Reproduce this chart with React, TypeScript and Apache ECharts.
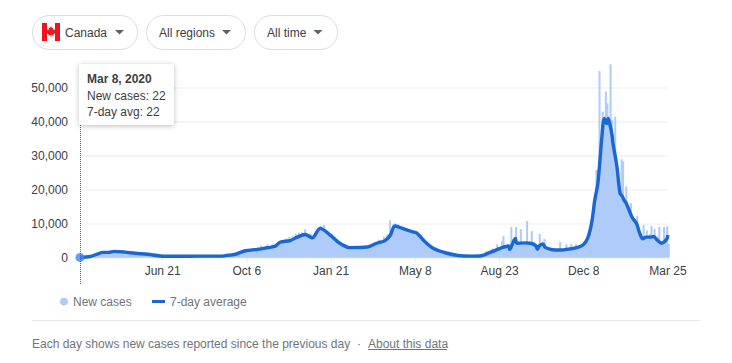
import React, { useEffect, useRef } from "react";
import * as echarts from "echarts";

// Axis labels: day offsets from Mar 8, 2020
const tickDays = [105, 212, 319, 426, 533, 640, 747];
const tickLabels = ["Jun 21", "Oct 6", "Jan 21", "May 8", "Aug 23", "Dec 8", "Mar 25"];
const yTicks = [0, 10000, 20000, 30000, 40000, 50000];

const chips = ["Canada", "All regions", "All time"];

// New cases, one reading per two days starting on Mar 8, 2020
const newCases = [
  22, 80, 110, 250, 340, 420, 500, 600, 720, 900, 1100, 1300, 1450, 1500, 1480, 1500, 1650, 1700, 1750, 1800,
  1900, 1850, 1750, 1800, 1700, 1600, 1550, 1500, 1450, 1300, 1250, 1200, 1250, 1200, 1150, 1100, 1000, 950, 880, 800,
  750, 700, 680, 620, 580, 520, 500, 460, 430, 400, 390, 380,
  350, 340, 320, 300, 290, 280, 300, 340, 310, 300, 320, 380, 400, 350, 320, 380, 420, 400, 360, 340,
  350, 380, 400, 380, 340, 330, 350, 380, 360, 340, 350, 390, 400, 420, 380, 430, 480, 450, 520, 560,
  600, 650, 700, 720, 760, 900, 1000, 1050, 1100,
  1300, 1500, 1700, 1900, 2100, 2200, 2000, 2400, 2300, 2700, 2100, 2600, 3000, 2500, 3600, 2700, 2600, 3300, 3900, 3000, 3400, 3800,
  3400, 3900, 4100, 4700, 4400, 5000, 4300, 4900, 5600, 5000, 6000, 5200, 6300, 5800, 7000, 6100, 7300, 6500, 7400, 6600,
  8300, 6500, 6900, 7000, 6800, 6000, 5400, 5700, 8500, 6500, 9300, 8700, 9600,
  8400, 8000, 7700, 7200, 6800, 6400, 6000, 5500, 5100, 4700, 4300, 4000, 3700, 3400, 3100, 3000,
  3000, 2900, 3000, 3500, 3100, 2900, 3000, 3000, 3100, 3100, 3300, 3200, 3300, 3600,
  3800, 4200, 4600, 4400, 5200, 5100,
  5300, 6200, 5500, 6600, 7000, 11000, 7800, 9800, 10000, 9300, 9800, 8800, 8900, 8500, 8000, 8400, 7800, 7900, 7500, 7500, 7300, 7100, 6900,
  6300, 5800, 5300, 4900, 4600, 4200, 3800, 3400, 3100, 2800, 2500, 2300, 2100, 1900, 1750, 1600, 1450, 1350, 1250, 1150,
  1050, 950, 850, 750, 680, 620, 570, 530, 490, 450, 420, 400, 390, 370, 360,
  380, 350, 320, 350, 400, 500, 700, 1200, 1900, 1500, 1700, 2200, 2700, 1800, 2400, 3900, 2800, 3200, 4700,
  6400, 3200, 3000, 3500, 3800, 9000, 3000, 3500, 9000, 3500, 4200, 8400, 4200, 3300, 4000, 10800, 3900, 3000, 7800, 3800,
  4000, 3000, 3500, 6900, 3000, 3200, 5500, 2400, 2700, 3000, 2400, 2300, 2400, 2300, 2200, 2400, 4500, 2300, 2400, 2300,
  3900, 2500, 2700, 4000, 3000, 3200, 3900, 3000, 3300,
  3300, 3500, 3600, 4300, 5000, 5800, 7800, 10500, 13000, 15500, 25800, 26000,
  55000, 26000, 43000, 35000, 49000, 45500, 32000, 57000, 40500, 30000, 41500, 18000,
  16000, 20000, 29000, 28400, 14000, 21000, 10000, 13000, 16000, 8000, 11000, 9000, 12200, 7000, 7500, 6000, 9600, 5500, 8000, 4500,
  7000, 9300, 4000, 8400, 4500, 6000, 9000, 3500, 5000, 9000, 4000, 9200, 4000,
];

// 7-day average readings: day offset and value
const avgDays = [
  0, 13, 22, 29, 36, 44, 57, 70, 86, 102, 121, 140, 159, 178, 188, 197, 210, 226, 241, 248,
  254, 267, 276, 286, 295, 305, 318, 330, 343, 365, 377, 387, 394, 400, 407, 422, 428, 438, 448, 464,
  480, 498, 508, 521, 534, 544, 546, 549, 553, 555, 565, 572, 579, 581, 583, 588, 591, 600, 610, 622,
  631, 639, 645, 650, 654, 658, 663, 666, 669, 671, 673, 676, 677, 682, 686, 689, 691, 694, 701, 707,
  711, 715, 719, 724, 729, 733, 739, 745, 747,
];
const avgValues = [
  22, 300, 1000, 1500, 1500, 1800, 1600, 1250, 950, 450, 350, 380, 400, 400, 650, 900, 2000, 2400, 3000, 3300,
  4500, 5000, 6000, 6800, 5800, 8600, 6600, 4200, 2900, 3100, 4200, 4900, 6500, 9300, 8800, 7600, 7200, 4700, 2800, 1400,
  600, 400, 450, 1500, 2700, 3400, 2400, 3800, 5600, 4200, 4300, 4200, 3500, 2400, 3300, 4000, 3000, 2300, 2200, 2500,
  2900, 3700, 5700, 10200, 17000, 22000, 35600, 41000, 39500, 41000, 39500, 36000, 33800, 27000, 19000, 18000, 17000, 16000, 12000, 10000,
  7200, 5500, 6000, 6000, 6200, 5200, 4200, 5300, 6600,
];

const FONT = "'Liberation Sans', Arial, sans-serif";
const DARK = "#3c4043";
const GREY = "#70757a";
const BLUE = "#1967d2";
const LIGHT = "#aecbfa";

const txt = (text: string, x: number, y: number, color: string, extra: any = {}) => ({
  type: "text",
  x,
  y,
  z: 101,
  style: { text, fill: color, font: `12px ${FONT}`, textVerticalAlign: "middle", ...extra },
});

const chip = (x: number, w: number) => ({
  type: "rect",
  z: 50,
  shape: { x: x + 0.5, y: 15.5, width: w, height: 34, r: 17 },
  style: { fill: "#fff", stroke: "#dadce0", lineWidth: 1 },
});

const caret = (x: number) => ({
  type: "polygon",
  z: 51,
  shape: { points: [[x, 30], [x + 9, 30], [x + 4.5, 34.5]] },
  style: { fill: "#5f6368" },
});

const leaf = [
  [51, 26], [52, 28], [53.3, 27.4], [52.8, 30], [54.3, 29], [54.8, 30.3], [56, 30.2], [55.5, 32], [56.2, 32.5],
  [53.4, 34.6], [53.7, 35.6], [51.3, 35.3], [51.3, 37.5], [50.7, 37.5], [50.7, 35.3], [48.3, 35.6], [48.6, 34.6],
  [45.8, 32.5], [46.5, 32], [46, 30.2], [47.2, 30.3], [47.7, 29], [49.2, 30], [48.7, 27.4], [50, 28],
];

const legendText = { color: GREY, fontSize: 12, fontFamily: FONT };

export default function App() {
  const ref = useRef<HTMLDivElement>(null);
  useEffect(() => {
    const chart = echarts.init(ref.current!, null, { renderer: "svg" });
    chart.setOption({
      animation: false,
      textStyle: { fontFamily: FONT },
      grid: { left: 80, top: 88, width: 588, height: 169.5, containLabel: false },
      xAxis: {
        type: "value",
        min: 0,
        max: 747,
        axisLine: { show: false },
        splitLine: { show: false },
        axisTick: { show: true, length: 4, customValues: tickDays, lineStyle: { color: "#e8eaed" } },
        axisLabel: {
          customValues: tickDays,
          color: DARK,
          fontSize: 12,
          margin: 7,
          hideOverlap: false,
          showMaxLabel: true,
          formatter: (v: number) => tickLabels[tickDays.indexOf(v)] ?? "",
        },
      },
      yAxis: {
        type: "value",
        min: 0,
        max: 50000,
        interval: 10000,
        axisLine: { show: false },
        axisTick: { show: false },
        splitLine: { lineStyle: { color: "#f1f3f4", width: 1.5 } },
        axisLabel: {
          color: DARK,
          fontSize: 12,
          margin: 12,
          formatter: (v: number) => (yTicks.includes(v) ? v.toLocaleString("en-US") : ""),
        },
      },
      legend: [
        {
          left: 55,
          top: 290.5,
          itemWidth: 8,
          itemHeight: 8,
          textStyle: legendText,
          data: [{ name: "New cases", icon: "circle" }],
        },
        {
          left: 147,
          top: 290.5,
          itemWidth: 13,
          itemHeight: 3,
          textStyle: legendText,
          data: [{ name: "7-day average", icon: "rect" }],
        },
      ],
      series: [
        {
          name: "New cases",
          type: "bar",
          clip: false,
          barWidth: 2,
          itemStyle: { color: LIGHT },
          data: newCases.map((v, i) => [i * 2, v]),
        },
        {
          name: "7-day average",
          type: "line",
          clip: false,
          showSymbol: false,
          symbol: "none",
          smooth: 0.3,
          lineStyle: { color: BLUE, width: 3.4 },
          itemStyle: { color: BLUE },
          areaStyle: { color: LIGHT, opacity: 1 },
          data: avgDays.map((d, i) => [d, avgValues[i]]),
          z: 5,
        },
        {
          name: "Selected",
          type: "scatter",
          symbolSize: 9,
          clip: false,
          itemStyle: { color: "#4285f4" },
          data: [[0, newCases[0]]],
          z: 8,
        },
      ],
      graphic: [
        chip(32, 105),
        chip(146, 99),
        chip(254, 83),
        { type: "rect", z: 52, shape: { x: 42, y: 23, width: 18, height: 18 }, style: { fill: "#fff" } },
        { type: "rect", z: 52, shape: { x: 42, y: 23, width: 5, height: 18 }, style: { fill: "#f4111b" } },
        { type: "rect", z: 52, shape: { x: 55, y: 23, width: 5, height: 18 }, style: { fill: "#f4111b" } },
        { type: "polygon", z: 53, shape: { points: leaf }, style: { fill: "#ea1a24" } },
        txt(chips[0], 65, 32.5, DARK),
        caret(115),
        txt(chips[1], 159, 32.5, DARK),
        caret(222),
        txt(chips[2], 267, 32.5, DARK),
        caret(313.5),
        {
          type: "line",
          z: 60,
          shape: { x1: 80.5, y1: 125, x2: 80.5, y2: 285 },
          style: { stroke: "#5f6368", lineWidth: 1, lineDash: [1, 1] },
        },
        {
          type: "rect",
          z: 100,
          shape: { x: 79, y: 64, width: 95, height: 61, r: 2 },
          style: { fill: "#fff", shadowBlur: 5, shadowColor: "rgba(60,64,67,0.35)", shadowOffsetY: 1 },
        },
        txt("Mar 8, 2020", 87, 78.5, DARK, { font: `bold 12px ${FONT}` }),
        txt(`New cases: ${newCases[0]}`, 87, 95.5, DARK),
        txt(`7-day avg: ${avgValues[0]}`, 87, 111.5, DARK),
        {
          type: "line",
          z: 60,
          shape: { x1: 32, y1: 320.5, x2: 700, y2: 320.5 },
          style: { stroke: "#e8eaed", lineWidth: 1 },
        },
        txt("Each day shows new cases reported since the previous day", 32, 343.5, GREY),
        txt("·", 357, 343.5, GREY),
        txt("About this data", 368, 343.5, GREY),
        {
          type: "line",
          z: 60,
          shape: { x1: 368, y1: 349.5, x2: 447, y2: 349.5 },
          style: { stroke: GREY, lineWidth: 1 },
        },
      ],
    });
    return () => chart.dispose();
  }, []);
  return (
    <div
      ref={ref}
      style={{ position: "absolute", left: 0, top: 0, width: 732, height: 363, background: "#fff" }}
    />
  );
}
